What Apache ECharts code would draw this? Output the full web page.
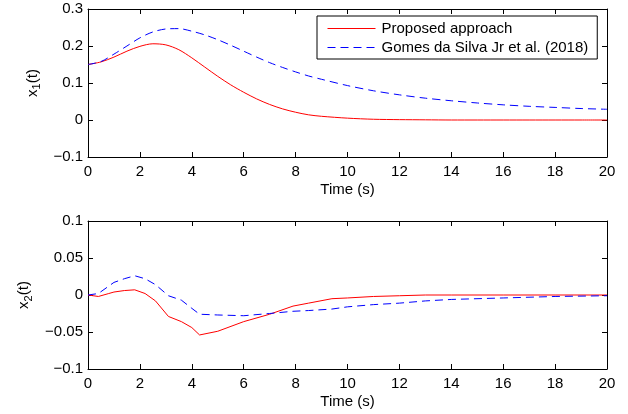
<!DOCTYPE html>
<html><head><meta charset="utf-8">
<script src="https://cdn.jsdelivr.net/npm/echarts@6/dist/echarts.min.js"></script>
<style>html,body{margin:0;padding:0;background:#fff}#c{width:628px;height:414px}</style>
</head><body><div id="c"></div>
<script>
var tTop = [0,0.5,1,1.5,2,2.5,3,3.5,4,4.5,5,5.5,6,6.5,7,7.5,8,8.5,9,10,11,12,13,14,15,16,17,18,19,20];
var x1Proposed = [0.150,0.157,0.170,0.186,0.199,0.206,0.203,0.190,0.168,0.143,0.118,0.095,0.075,0.057,0.042,0.030,0.021,0.014,0.010,0.005,0.002,0.001,0.0005,0,0,0,0,0,0,0];
var x1Gomes = [0.150,0.158,0.178,0.200,0.222,0.238,0.246,0.247,0.240,0.230,0.217,0.202,0.186,0.170,0.155,0.142,0.130,0.119,0.110,0.093,0.079,0.068,0.059,0.052,0.046,0.041,0.037,0.034,0.031,0.029];
var tBot = [0,0.4,0.8,1,1.4,1.8,2.2,2.6,3.1,3.6,4,4.3,5,6,7,7.9,8.5,9.4,10,11,12,13,14,16,18,20];
var x2Proposed = [0,-0.002,0.002,0.004,0.006,0.007,0.002,-0.008,-0.029,-0.036,-0.044,-0.054,-0.049,-0.036,-0.026,-0.015,-0.011,-0.005,-0.004,-0.002,-0.001,0,0,0,0,0];
var x2Gomes = [0,0.002,0.012,0.017,0.022,0.026,0.022,0.014,-0.001,-0.007,-0.018,-0.026,-0.027,-0.028,-0.025,-0.022,-0.021,-0.019,-0.016,-0.013,-0.011,-0.008,-0.006,-0.004,-0.002,-0.001];
var seriesNames = ['Proposed approach','Gomes da Silva Jr et al. (2018)'];
var xTicks = {min:0,max:20,interval:2};
var yTopTicks = {min:-0.1,max:0.3,interval:0.1};
var yBotTicks = {min:-0.1,max:0.1,interval:0.05};

function pairs(t,v){return t.map(function(x,i){return [x,v[i]];});}
var font = 'Liberation Sans, Arial, Helvetica, sans-serif';
var lbl = {color:'#000',fontSize:15,fontFamily:font};
var axLine = {show:true,onZero:false,lineStyle:{color:'#000',width:1}};
var tick = {show:true,inside:true,length:5,lineStyle:{color:'#000'}};
function fmtY(v){ if(Math.abs(v)<1e-9) return '0'; var s=String(Math.round(v*1000)/1000); return s.replace('-','\u2212'); }

var grids = [{left:88,top:9,width:519,height:148},{left:88,top:221,width:519,height:148}];
var xAxes = [], yAxes = [];
[0,1].forEach(function(g){
  xAxes.push({type:'value',gridIndex:g,min:xTicks.min,max:xTicks.max,interval:xTicks.interval,position:'bottom',
    axisLine:axLine,axisTick:tick,splitLine:{show:false},axisLabel:Object.assign({margin:7},lbl),
    name:'Time (s)',nameLocation:'middle',nameGap:25,nameTextStyle:lbl});
  xAxes.push({type:'value',gridIndex:g,min:xTicks.min,max:xTicks.max,interval:xTicks.interval,position:'top',
    axisLine:axLine,axisTick:tick,splitLine:{show:false},axisLabel:{show:false}});
  var yt = g===0?yTopTicks:yBotTicks;
  var nm = g===0?'x{s|1}(t)':'x{s|2}(t)';
  yAxes.push({type:'value',gridIndex:g,min:yt.min,max:yt.max,interval:yt.interval,position:'left',
    axisLine:axLine,axisTick:tick,splitLine:{show:false},axisLabel:Object.assign({margin:5,formatter:fmtY},lbl),
    name:nm,nameLocation:'middle',nameGap:g===0?44:49,
    nameTextStyle:Object.assign({},lbl,{rich:{s:{fontSize:11,fontFamily:font,color:'#000',padding:[9,0,0,0]}}})});
  yAxes.push({type:'value',gridIndex:g,min:yt.min,max:yt.max,interval:yt.interval,position:'right',
    axisLine:axLine,axisTick:tick,splitLine:{show:false},axisLabel:{show:false}});
});

var red = {color:'#ff0000',width:1,type:'solid'};
var blue = {color:'#0000ff',width:1,type:[8,5]};
var series = [
  {name:seriesNames[0],type:'line',xAxisIndex:0,yAxisIndex:0,data:pairs(tTop,x1Proposed),showSymbol:false,symbol:'none',smooth:0.3,lineStyle:red,itemStyle:{color:'#ff0000'}},
  {name:seriesNames[1],type:'line',xAxisIndex:0,yAxisIndex:0,data:pairs(tTop,x1Gomes),showSymbol:false,symbol:'none',smooth:0.3,lineStyle:blue,itemStyle:{color:'#0000ff'}},
  {name:seriesNames[0],type:'line',xAxisIndex:2,yAxisIndex:2,data:pairs(tBot,x2Proposed),showSymbol:false,symbol:'none',lineStyle:red,itemStyle:{color:'#ff0000'}},
  {name:seriesNames[1],type:'line',xAxisIndex:2,yAxisIndex:2,data:pairs(tBot,x2Gomes),showSymbol:false,symbol:'none',lineStyle:blue,itemStyle:{color:'#0000ff'}}
];

var chart = echarts.init(document.getElementById('c'),null,{renderer:'canvas'});
chart.setOption({
  animation:false,
  backgroundColor:'#fff',
  grid:grids,
  xAxis:xAxes,
  yAxis:yAxes,
  legend:{show:true,orient:'vertical',left:317,top:16,padding:[5,9,4,10],itemGap:4,itemWidth:48,itemHeight:16,
    backgroundColor:'#fff',borderColor:'#000',borderWidth:1,borderRadius:0,
    itemStyle:{opacity:0,borderWidth:0},lineStyle:{width:1,type:'inherit'},
    textStyle:{color:'#000',fontSize:15,fontFamily:font,padding:[0,0,0,1]},selectedMode:false},
  series:series
});
</script></body></html>
